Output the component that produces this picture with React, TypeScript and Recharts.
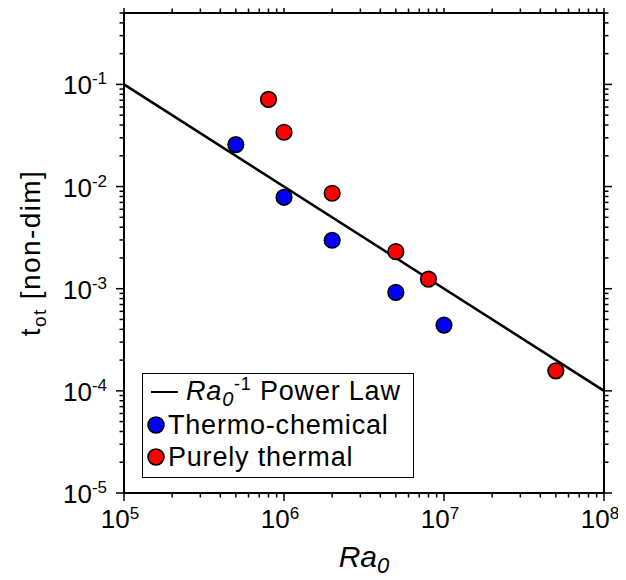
import React from 'react';
import { Legend, Scatter, ScatterChart, XAxis, YAxis } from 'recharts';

// measured points
const thermoChemical = [
    { ra: 5e5, t: 0.0257 },
    { ra: 1e6, t: 0.00785 },
    { ra: 2e6, t: 0.00298 },
    { ra: 5e6, t: 0.00092 },
    { ra: 1e7, t: 0.00044 },
];

const purelyThermal = [
    { ra: 8e5, t: 0.0713 },
    { ra: 1e6, t: 0.034 },
    { ra: 2e6, t: 0.0086 },
    { ra: 5e6, t: 0.00231 },
    { ra: 8e6, t: 0.00124 },
    { ra: 5e7, t: 0.000157 },
];

// Ra0^-1 reference line end points
const powerLaw = [
    { ra: 1e5, t: 1e-1 },
    { ra: 1e8, t: 1e-4 },
];

const xMajor = [1e5, 1e6, 1e7, 1e8];
const xExponents = ['5', '6', '7', '8'];
const yMajor = [1e-5, 1e-4, 1e-3, 1e-2, 1e-1];
const yExponents = ['-5', '-4', '-3', '-2', '-1'];
const minorFactors = [2, 3, 4, 5, 6, 7, 8, 9];
const yTopMinor = [2e-1, 3e-1, 4e-1, 5e-1];

const xTicks = [
    ...xMajor,
    ...xMajor.slice(0, -1).flatMap((d) => minorFactors.map((f) => f * d)),
];
const yTicks = [
    ...yMajor,
    ...yMajor.slice(0, -1).flatMap((d) => minorFactors.map((f) => f * d)),
    ...yTopMinor,
];

const FONT = '"Liberation Sans", Arial, Helvetica, sans-serif';
const MAJOR_LEN = 8;
const MINOR_LEN = 4.5;

const isMajor = (v: number) => {
    const l = Math.log10(v);
    return Math.abs(l - Math.round(l)) < 1e-6;
};

const findMajor = (list: number[], v: number) =>
    list.findIndex((m) => Math.abs(Math.log10(m) - Math.log10(v)) < 1e-6);

const BottomTick = (props: any) => {
    const { x, y, payload } = props;
    const idx = findMajor(xMajor, payload.value);
    const major = isMajor(payload.value);
    return (
        <g>
            <line x1={x} x2={x} y1={y} y2={y + (major ? MAJOR_LEN : MINOR_LEN)} stroke="#000" strokeWidth={1.5} />
            {idx >= 0 && (
                <text x={x - 4} y={y + 35} textAnchor="middle" fontFamily={FONT} fontSize={26} fill="#000">
                    10
                    <tspan dy={-9} fontSize={17}>{xExponents[idx]}</tspan>
                </text>
            )}
        </g>
    );
};

const TopTick = (props: any) => {
    const { x, y, payload } = props;
    const major = isMajor(payload.value);
    return <line x1={x} x2={x} y1={y} y2={y - (major ? MAJOR_LEN : MINOR_LEN)} stroke="#000" strokeWidth={1.5} />;
};

const LeftTick = (props: any) => {
    const { x, y, payload } = props;
    const idx = findMajor(yMajor, payload.value);
    const major = isMajor(payload.value);
    return (
        <g>
            <line x1={x} x2={x - (major ? MAJOR_LEN : MINOR_LEN)} y1={y} y2={y} stroke="#000" strokeWidth={1.5} />
            {idx >= 0 && (
                <text x={x - 17} y={y + 10} textAnchor="end" fontFamily={FONT} fontSize={26} fill="#000">
                    10
                    <tspan dy={-10} fontSize={17}>{yExponents[idx]}</tspan>
                </text>
            )}
        </g>
    );
};

const RightTick = (props: any) => {
    const { x, y, payload } = props;
    const major = isMajor(payload.value);
    return <line x1={x} x2={x + (major ? MAJOR_LEN : MINOR_LEN)} y1={y} y2={y} stroke="#000" strokeWidth={1.5} />;
};

const Dot = (color: string) => (p: any) => (
    <circle cx={p.cx} cy={p.cy} r={7.8} fill={color} stroke="#000" strokeWidth={1.6} />
);

const XTitle = (props: any) => {
    const { viewBox } = props;
    return (
        <text
            x={viewBox.x + viewBox.width / 2}
            y={viewBox.y + 74}
            textAnchor="middle"
            fontFamily={FONT}
            fontSize={30}
            fontStyle="italic"
            fill="#000"
        >
            Ra
            <tspan dy={6} fontSize={22}>0</tspan>
        </text>
    );
};

const YTitle = (props: any) => {
    const { viewBox } = props;
    const cx = 32;
    const cy = viewBox.y + viewBox.height / 2;
    return (
        <text
            x={cx}
            y={cy}
            textAnchor="middle"
            fontFamily={FONT}
            fontSize={28}
            letterSpacing={1.4}
            fill="#000"
            transform={`rotate(-90, ${cx}, ${cy})`}
        >
            t
            <tspan dy={6} fontSize={19}>ot</tspan>
            <tspan dy={-6}> [non-dim]</tspan>
        </text>
    );
};

const LegendBox = () => {
    const row: React.CSSProperties = {
        position: 'absolute',
        left: 0,
        height: 30,
        lineHeight: '30px',
        whiteSpace: 'nowrap',
        display: 'flex',
        alignItems: 'center',
    };
    const marker = (color: string) => (
        <svg width={22} height={20} style={{ marginLeft: 2, marginRight: 1 }}>
            <circle cx={11} cy={10} r={8} fill={color} stroke="#000" strokeWidth={1.6} />
        </svg>
    );
    return (
        <div
            style={{
                position: 'relative',
                width: 272,
                height: 105,
                boxSizing: 'border-box',
                border: '1.5px solid #000',
                background: '#fff',
                fontFamily: FONT,
                fontSize: 27,
                letterSpacing: 0.8,
                color: '#000',
            }}
        >
            <div style={{ ...row, top: 3 }}>
                <span style={{ display: 'inline-block', width: 27, height: 2.5, background: '#000', marginLeft: 8, marginRight: 8 }} />
                <span>
                    <i>Ra</i>
                    <i style={{ fontSize: 20, position: 'relative', top: 6 }}>0</i>
                    <span style={{ fontSize: 18, position: 'relative', top: -10 }}>-1</span> Power Law
                </span>
            </div>
            <div style={{ ...row, top: 36 }}>
                {marker('#0000ff')}
                <span>Thermo-chemical</span>
            </div>
            <div style={{ ...row, top: 68 }}>
                {marker('#ff0000')}
                <span>Purely thermal</span>
            </div>
        </div>
    );
};

export default function App() {
    return (
        <ScatterChart width={610} height={572} margin={{ top: 4, right: 13, left: 0, bottom: 0 }}>
            <XAxis
                dataKey="ra"
                type="number"
                scale="log"
                domain={[1e5, 1e8]}
                allowDataOverflow
                ticks={xTicks}
                interval={0}
                tickSize={0}
                tickMargin={0}
                tick={BottomTick}
                tickLine={false}
                axisLine={{ stroke: '#000', strokeWidth: 2 }}
                height={87}
                label={XTitle}
            />
            <XAxis
                xAxisId="top"
                dataKey="ra"
                orientation="top"
                type="number"
                scale="log"
                domain={[1e5, 1e8]}
                allowDataOverflow
                ticks={xTicks}
                interval={0}
                tickSize={0}
                tickMargin={0}
                tick={TopTick}
                tickLine={false}
                axisLine={{ stroke: '#000', strokeWidth: 2 }}
                height={1}
            />
            <YAxis
                dataKey="t"
                type="number"
                scale="log"
                domain={[1e-5, 0.5]}
                allowDataOverflow
                ticks={yTicks}
                interval={0}
                tickSize={0}
                tickMargin={0}
                tick={LeftTick}
                tickLine={false}
                axisLine={{ stroke: '#000', strokeWidth: 2 }}
                width={116}
                label={YTitle}
            />
            <YAxis
                yAxisId="right"
                dataKey="t"
                orientation="right"
                type="number"
                scale="log"
                domain={[1e-5, 0.5]}
                allowDataOverflow
                ticks={yTicks}
                interval={0}
                tickSize={0}
                tickMargin={0}
                tick={RightTick}
                tickLine={false}
                axisLine={{ stroke: '#000', strokeWidth: 2 }}
                width={1}
            />
            <Legend
                content={LegendBox}
                layout="horizontal"
                verticalAlign="middle"
                align="center"
                wrapperStyle={{ left: 134, top: 365, width: 272, height: 105 }}
            />
            {/* mirror axes need a series to be drawn */}
            <Scatter
                xAxisId="top"
                yAxisId="right"
                data={powerLaw}
                shape={() => <g />}
                isAnimationActive={false}
            />
            <Scatter
                name="Power Law"
                data={powerLaw}
                line={{ stroke: '#000', strokeWidth: 2.5 }}
                shape={() => <g />}
                isAnimationActive={false}
            />
            <Scatter name="Thermo-chemical" data={thermoChemical} shape={Dot('#0000ff')} isAnimationActive={false} />
            <Scatter name="Purely thermal" data={purelyThermal} shape={Dot('#ff0000')} isAnimationActive={false} />
        </ScatterChart>
    );
}
